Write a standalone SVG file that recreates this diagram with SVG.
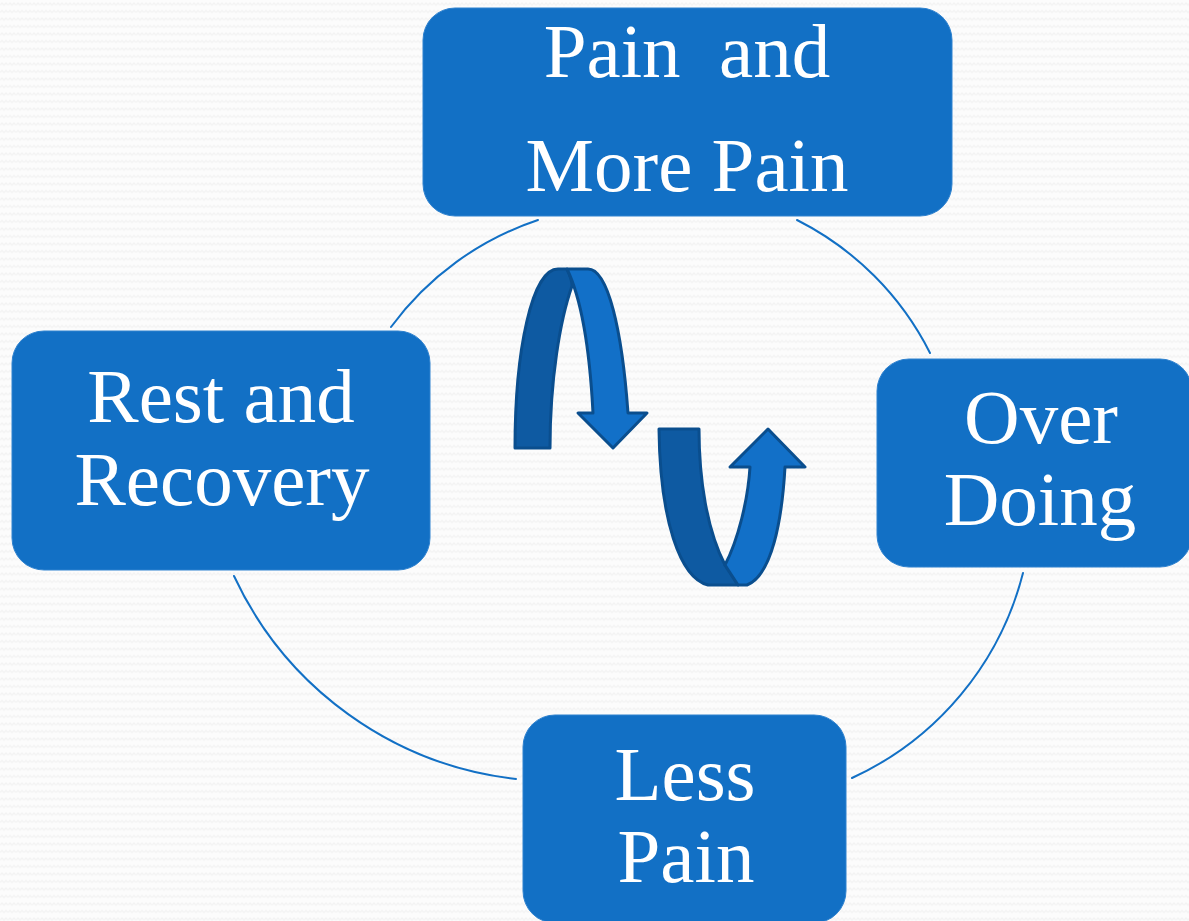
<svg xmlns="http://www.w3.org/2000/svg" width="1189" height="921" viewBox="0 0 1189 921">
<style>
.box{fill:#1270C5;stroke:#2F82CF;stroke-width:1}
.lbl{font-family:"Liberation Serif","Times New Roman",serif;font-size:77px;fill:#FFFFFF;text-anchor:middle}
.arc{fill:none;stroke:#1270C5;stroke-width:2;stroke-linecap:round}
.rib-dark{fill:#0E5AA2;stroke:#0A4E8E;stroke-width:3;stroke-linejoin:round}
.rib-light{fill:#1270C8;stroke:#0A4E8E;stroke-width:3;stroke-linejoin:round}
</style>
<defs>
<pattern id="zig" width="8" height="7.5" patternUnits="userSpaceOnUse">
<rect width="8" height="7.5" fill="#FCFCFC"/>
<polyline points="0,5 2,3 4,5 6,3 8,5" fill="none" stroke="#F3F3F3" stroke-width="1.2"/>
</pattern>
</defs>
<rect width="1189" height="921" fill="url(#zig)"/>
<g id="connectors">
<path class="arc" d="M538,220 A300,300 0 0 0 391,327"/>
<path class="arc" d="M797,220 A300,300 0 0 1 930,353"/>
<path class="arc" d="M234,576 A355,355 0 0 0 516,779"/>
<path class="arc" d="M1023,573 A310,310 0 0 1 852,778"/>
</g>
<g id="cycle-arrows">
<path class="rib-dark" d="M515,448 C515,350 532,269 558,269 L567,269 C570,275 572,281 572,286 C560,320 550,380 550,448 Z"/>
<path class="rib-light" d="M567,269 L588,269 C608,269 622,330 628,413 L647,413 L613,448 L578,413 L593,413 C590,355 582,300 567,269 Z"/>
<path class="rib-dark" d="M659,429 L699,429 C699,480 707,530 725,565 L738,585 L708,585 C680,578 660,520 659,429 Z"/>
<path class="rib-light" d="M725,565 C738,540 748,500 750,467 L730,467 L768,429 L805,467 L785,467 C782,520 772,575 747,585 L738,585 Z"/>
</g>
<g id="node-pain-more">
<rect class="box" x="423" y="8" width="529" height="208" rx="32"/>
<text class="lbl" x="687" y="77" xml:space="preserve">Pain  and</text>
<text class="lbl" x="687" y="191">More Pain</text>
</g>
<g id="node-over-doing">
<rect class="box" x="877" y="359" width="315" height="208" rx="32"/>
<text class="lbl" x="1041" y="443">Over</text>
<text class="lbl" x="1040" y="525">Doing</text>
</g>
<g id="node-less-pain">
<rect class="box" x="523" y="715" width="323" height="208" rx="32"/>
<text class="lbl" x="685" y="800">Less</text>
<text class="lbl" x="686" y="882">Pain</text>
</g>
<g id="node-rest-recovery">
<rect class="box" x="12" y="331" width="418" height="239" rx="32"/>
<text class="lbl" x="221" y="422">Rest and</text>
<text class="lbl" x="222" y="505">Recovery</text>
</g>
</svg>
